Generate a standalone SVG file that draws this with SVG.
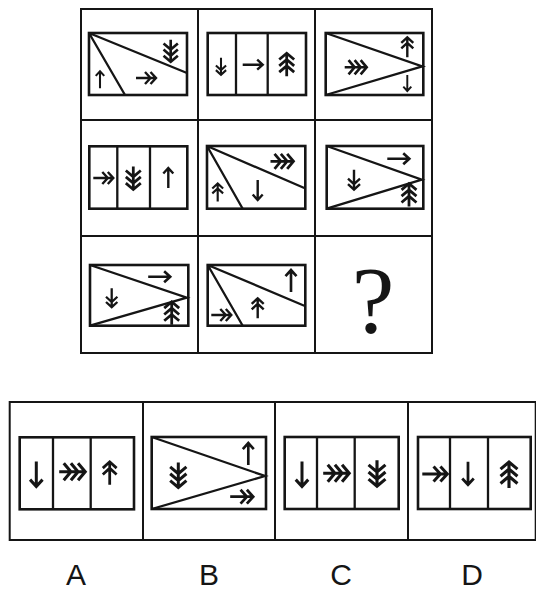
<svg xmlns="http://www.w3.org/2000/svg" xmlns:xlink="http://www.w3.org/1999/xlink" width="536" height="592" viewBox="0 0 536 592">
<style>
.g{fill:none;stroke:#151515;stroke-width:2}
.r{fill:none;stroke:#151515;stroke-width:2.6}
.d{fill:none;stroke:#151515;stroke-width:2.3}
.ar{fill:none;stroke:#151515;stroke-width:2.4;vector-effect:non-scaling-stroke;stroke-linecap:butt}
.q{font-family:"Liberation Serif",serif;font-size:96px;fill:#151515;text-anchor:middle}
.lb{font-family:"Liberation Sans",Arial,sans-serif;font-size:30px;fill:#151515;text-anchor:middle}
</style>
<defs>
<g id="a1" class="ar"><path d="M0,10V-9.5M-5,-4.5L0,-10L5,-4.5"/></g>
<g id="a2" class="ar"><path d="M0,10V-9.5M-6,-4.5L0,-10L6,-4.5M-6,1L0,-4.5L6,1"/></g>
<g id="a3" class="ar"><path d="M0,10V-9.5M-6.5,-4.5L0,-10L6.5,-4.5M-6.5,1L0,-4.5L6.5,1M-6.5,6.5L0,1L6.5,6.5"/></g>
</defs>
<g id="grid">
<rect class="g" x="81" y="9" width="351" height="344"/>
<path class="g" d="M198,9V353M315,9V353M81,120H432M81,236H432"/>
</g>
<g id="cell1">
<rect class="r" x="89" y="33" width="98" height="62"/>
<path class="d" d="M89,33L187,73M89,33L125,95"/>
<use href="#a1" transform="translate(100,79.7) scale(0.85)"/>
<use href="#a2" transform="translate(146,78) rotate(90)"/>
<use href="#a3" transform="translate(170.7,50.7) rotate(180) scale(1.1)"/>
</g>
<g id="cell2">
<rect class="r" x="207.7" y="33" width="98.3" height="62"/>
<path class="d" d="M236,33V95M267.7,33V95"/>
<use href="#a2" transform="translate(221,66.3) rotate(180) scale(0.85)"/>
<use href="#a1" transform="translate(252.7,64.7) rotate(90)"/>
<use href="#a3" transform="translate(286.7,64.7) scale(1.15)"/>
</g>
<g id="cell3">
<rect class="r" x="325.7" y="33" width="97.6" height="62"/>
<path class="d" d="M325.7,33L422.3,66.3L325.7,95"/>
<use href="#a3" transform="translate(355.7,67.3) rotate(90) scale(1.1)"/>
<use href="#a2" transform="translate(407.3,47.3)"/>
<use href="#a1" transform="translate(407.3,83) rotate(180) scale(0.8)"/>
</g>
<g id="cell4">
<rect class="r" x="89.3" y="146.3" width="98" height="62.4"/>
<path class="d" d="M117.3,146.3V208.7M150,146.3V208.7"/>
<use href="#a2" transform="translate(103.3,178) rotate(90)"/>
<use href="#a3" transform="translate(133.3,178) rotate(180) scale(1.15)"/>
<use href="#a1" transform="translate(168.3,178)"/>
</g>
<g id="cell5">
<rect class="r" x="207" y="146" width="98.3" height="62.7"/>
<path class="d" d="M207,146L304.3,188M207,146L242.7,208.7"/>
<use href="#a2" transform="translate(217.7,192.5) scale(0.9)"/>
<use href="#a1" transform="translate(257.7,190) rotate(180)"/>
<use href="#a3" transform="translate(282,161.3) rotate(90) scale(1.15)"/>
</g>
<g id="cell6">
<rect class="r" x="326.7" y="146" width="96.6" height="62.7"/>
<path class="d" d="M326.7,146L421.8,179.7L326.7,208.7"/>
<use href="#a1" transform="translate(398.3,158.7) rotate(90) scale(1.1)"/>
<use href="#a2" transform="translate(354,179.7) rotate(180)"/>
<use href="#a3" transform="translate(409,195) scale(1.15)"/>
</g>
<g id="cell7">
<rect class="r" x="90" y="265" width="98.3" height="60.7"/>
<path class="d" d="M90,265L186.8,297.7L90,325.7"/>
<use href="#a1" transform="translate(159.2,276.7) rotate(90) scale(1.1)"/>
<use href="#a2" transform="translate(111.7,297.7) rotate(180) scale(0.95)"/>
<use href="#a3" transform="translate(171.7,313.3) scale(1.15)"/>
</g>
<g id="cell8">
<rect class="r" x="207.7" y="265" width="97.6" height="60.7"/>
<path class="d" d="M207.7,265L304.3,305.7M207.7,265L242.7,325.7"/>
<use href="#a1" transform="translate(291,281) scale(1.1)"/>
<use href="#a2" transform="translate(257.7,308.3)"/>
<use href="#a2" transform="translate(221.3,315) rotate(90)"/>
</g>
<g id="cell9">
<text class="q" x="373" y="333">?</text>
</g>
<g id="options">
<rect class="g" x="9.7" y="402" width="526" height="138"/>
<path class="g" d="M143,402V540M275,402V540M408,402V540"/>
</g>
<g id="optA">
<rect class="r" x="19.7" y="437.3" width="114.3" height="72"/>
<path class="d" d="M53,437.3V509.3M90.7,437.3V509.3"/>
<use href="#a1" transform="translate(36.3,474) rotate(180) scale(1.25)"/>
<use href="#a3" transform="translate(72.2,471.7) rotate(90) scale(1.3)"/>
<use href="#a2" transform="translate(109.7,473.3) scale(1.15)"/>
</g>
<g id="optB">
<rect class="r" x="151.7" y="437" width="114.3" height="72"/>
<path class="d" d="M151.7,437L265,476L151.7,509"/>
<use href="#a3" transform="translate(178.3,475) rotate(180) scale(1.25)"/>
<use href="#a1" transform="translate(248.3,454) scale(1.1)"/>
<use href="#a2" transform="translate(241.7,496.7) rotate(90) scale(1.15)"/>
</g>
<g id="optC">
<rect class="r" x="284.7" y="437" width="114" height="72"/>
<path class="d" d="M317,437V509M354.7,437V509"/>
<use href="#a1" transform="translate(302,474) rotate(180) scale(1.25)"/>
<use href="#a3" transform="translate(336.2,473.3) rotate(90) scale(1.3)"/>
<use href="#a3" transform="translate(377,473.3) rotate(180) scale(1.3)"/>
</g>
<g id="optD">
<rect class="r" x="418" y="437" width="112.7" height="72"/>
<path class="d" d="M450,437V509M488,437V509"/>
<use href="#a2" transform="translate(434.8,474) rotate(90) scale(1.25)"/>
<use href="#a1" transform="translate(468,473.3) rotate(180) scale(1.15)"/>
<use href="#a3" transform="translate(509,475) scale(1.3)"/>
</g>
<g id="labels">
<text class="lb" x="76" y="585">A</text>
<text class="lb" x="209" y="585">B</text>
<text class="lb" x="341" y="585">C</text>
<text class="lb" x="472" y="585">D</text>
</g>
</svg>
